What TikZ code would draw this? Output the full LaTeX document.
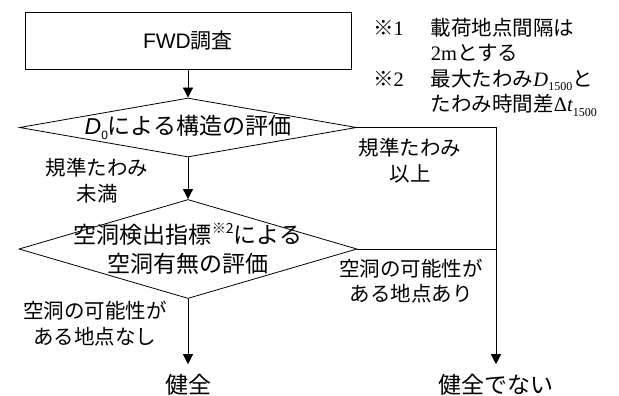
\documentclass[tikz,border=0pt]{standalone}
\usepackage{fontspec}
\setmainfont{Noto Sans CJK JP}
\newfontfamily\lsans{Liberation Sans}
\newfontfamily\lserif{Liberation Serif}
\usetikzlibrary{arrows.meta, positioning, shapes.geometric}
\newcommand\lowsub[1]{\raisebox{-0.22em}{\fontsize{12}{12}\selectfont #1}}
\newcommand\highsup[1]{\raisebox{0.42em}{\fontsize{14}{14}\selectfont #1}}

\begin{document}
\begin{tikzpicture}[x=1pt,y=-1pt,
  jp/.style={font=\fontsize{20.5}{25.5}\selectfont},
  big/.style={font=\fontsize{23}{29.5}\selectfont},
  proc/.style={rectangle,draw,line width=0.8pt,minimum width=326pt,minimum height=57pt,font=\fontsize{21}{25}\selectfont},
  judge/.style={diamond,draw,line width=0.8pt,inner sep=0pt},
  lbl/.style={jp,align=center,inner sep=0pt},
  term/.style={big,inner xsep=2pt,inner ysep=10pt},
  arr/.style={-{Triangle[length=10pt,width=10pt]},line width=0.8pt}
]
  \useasboundingbox (0,0) rectangle (619,396);
  \node[proc] (fwd) at (188,40.5) {{\lsans FWD}調査};
  \node[judge,minimum width=337pt,minimum height=59pt,
    label={[big,inner sep=0pt]center:{\lsans\itshape D\/}{\lsans\lowsub{0}}による構造の評価}] (d1) at (188,127.5) {};
  \node[judge,minimum width=338pt,minimum height=99pt,
    label={[big,align=center,inner sep=0pt]center:空洞検出指標\highsup{※2}による\\空洞有無の評価}] (d2) at (188,249) {};
  \node[term] (ok) at (188,385) {健全};
  \node[term] (ng) at (496,385) {健全でない};
  \coordinate (j1) at (496,127.5);
  \coordinate (j2) at (496,249);
  \draw[arr] (fwd.south) -- (d1.north);
  \draw[arr] (d1.south) -- (d2.north);
  \draw[arr] (d2.south) -- (ok.north);
  \draw[arr] (d1.east) -- (j1) -- (ng.north);
  \draw[line width=0.8pt] (d2.east) -- (j2);
  % branch labels
  \node[lbl] (under)  at (97,180.5)  {規準たわみ\\未満};
  \node[lbl] (over)   at (410,160.5) {規準たわみ\\以上};
  \node[lbl] (hole)   at (411,281)   {空洞の可能性が\\ある地点あり};
  \node[lbl] (nohole) at (95,323.5)  {空洞の可能性が\\ある地点なし};
  % notes
  \node[jp,anchor=north west,inner sep=0pt] (notes) at (373,17) {%
    \begin{tabular}{@{}l@{\hspace{27pt}}l@{}}
      ※{\lserif 1} & 載荷地点間隔は\\
                   & {\lserif 2m}とする\\
      ※{\lserif 2} & 最大たわみ{\lserif\itshape D}{\lserif\lowsub{1500}}と\\
                   & たわみ時間差{\lserif Δ\itshape t}{\lserif\lowsub{1500}}
    \end{tabular}};
\end{tikzpicture}
\end{document}
